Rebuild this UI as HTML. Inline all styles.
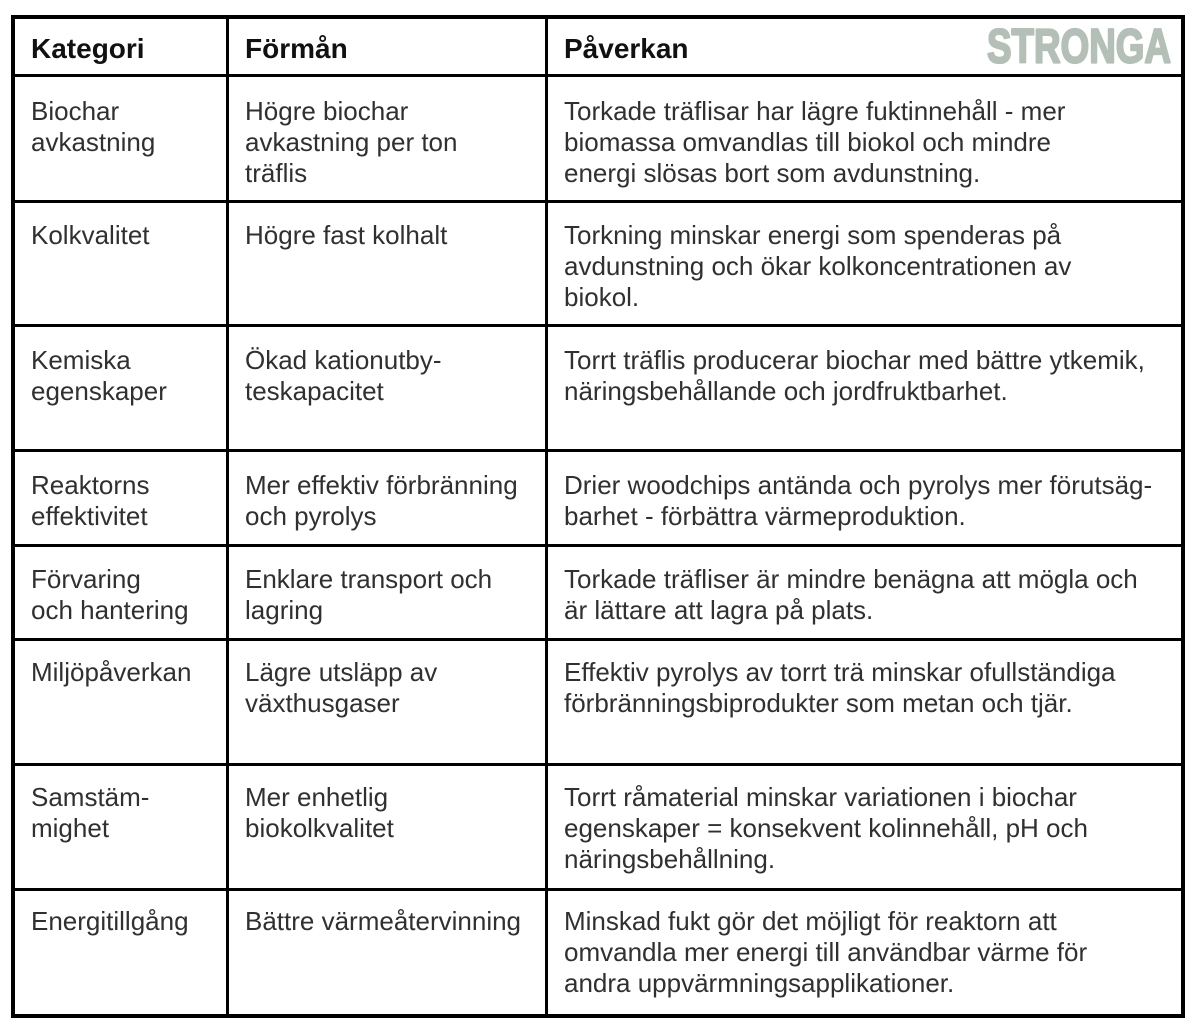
<!DOCTYPE html>
<html>
<head>
<meta charset="utf-8">
<style>
  html, body { margin:0; padding:0; background:#fff; }
  body { width:1200px; height:1034px; position:relative; overflow:hidden; font-family:"Liberation Sans", Arial, sans-serif; }
  .frame { position:absolute; left:11px; top:15px; width:1174px; height:1003px; border:4px solid #000; box-sizing:border-box; }
  .v { position:absolute; top:15px; height:1003px; width:3px; background:#000; }
  .h { position:absolute; left:11px; width:1174px; height:3px; background:#000; }
  .hd { position:absolute; top:32.6px; font-size:28px; line-height:32px; font-weight:bold; color:#111; white-space:nowrap; }
  .t { position:absolute; font-size:26px; line-height:31px; color:#303030; white-space:nowrap; }
  .c1 { left:31px; } .c2 { left:245px; } .c3 { left:564px; }
</style>
</head>
<body>
<div class="frame"></div>
<div class="v" style="left:226px"></div>
<div class="v" style="left:545px"></div>
<div class="h" style="top:74px"></div>
<div class="h" style="top:200px"></div>
<div class="h" style="top:324px"></div>
<div class="h" style="top:449px"></div>
<div class="h" style="top:544px"></div>
<div class="h" style="top:638px"></div>
<div class="h" style="top:763px"></div>
<div class="h" style="top:888px"></div>

<div class="hd c1">Kategori</div>
<div class="hd c2">Förmån</div>
<div class="hd c3">Påverkan</div>

<svg style="position:absolute;left:0;top:0" width="1200" height="80">
  <text x="987" y="62.5" font-family="Liberation Sans Narrow, Liberation Sans, sans-serif" font-weight="bold" font-size="48" fill="#b4c0b7" stroke="#b4c0b7" stroke-width="2.2" stroke-linejoin="round" textLength="184" lengthAdjust="spacingAndGlyphs">STRONGA</text>
</svg>

<!-- Row 1 -->
<div class="t c1" style="top:96px">Biochar<br>avkastning</div>
<div class="t c2" style="top:96px">Högre biochar<br>avkastning per ton<br>träflis</div>
<div class="t c3" style="top:96px">Torkade träflisar har lägre fuktinnehåll - mer<br>biomassa omvandlas till biokol och mindre<br>energi slösas bort som avdunstning.</div>

<!-- Row 2 -->
<div class="t c1" style="top:220px">Kolkvalitet</div>
<div class="t c2" style="top:220px">Högre fast kolhalt</div>
<div class="t c3" style="top:220px">Torkning minskar energi som spenderas på<br>avdunstning och ökar kolkoncentrationen av<br>biokol.</div>

<!-- Row 3 -->
<div class="t c1" style="top:345px">Kemiska<br>egenskaper</div>
<div class="t c2" style="top:345px">Ökad kationutby-<br>teskapacitet</div>
<div class="t c3" style="top:345px">Torrt träflis producerar biochar med bättre ytkemik,<br>näringsbehållande och jordfruktbarhet.</div>

<!-- Row 4 -->
<div class="t c1" style="top:470px">Reaktorns<br>effektivitet</div>
<div class="t c2" style="top:470px">Mer effektiv förbränning<br>och pyrolys</div>
<div class="t c3" style="top:470px">Drier woodchips antända och pyrolys mer förutsäg-<br>barhet - förbättra värmeproduktion.</div>

<!-- Row 5 -->
<div class="t c1" style="top:564px">Förvaring<br>och hantering</div>
<div class="t c2" style="top:564px">Enklare transport och<br>lagring</div>
<div class="t c3" style="top:564px">Torkade träfliser är mindre benägna att mögla och<br>är lättare att lagra på plats.</div>

<!-- Row 6 -->
<div class="t c1" style="top:657px">Miljöpåverkan</div>
<div class="t c2" style="top:657px">Lägre utsläpp av<br>växthusgaser</div>
<div class="t c3" style="top:657px">Effektiv pyrolys av torrt trä minskar ofullständiga<br>förbränningsbiprodukter som metan och tjär.</div>

<!-- Row 7 -->
<div class="t c1" style="top:782px">Samstäm-<br>mighet</div>
<div class="t c2" style="top:782px">Mer enhetlig<br>biokolkvalitet</div>
<div class="t c3" style="top:782px">Torrt råmaterial minskar variationen i biochar<br>egenskaper = konsekvent kolinnehåll, pH och<br>näringsbehållning.</div>

<!-- Row 8 -->
<div class="t c1" style="top:906px">Energitillgång</div>
<div class="t c2" style="top:906px">Bättre värmeåtervinning</div>
<div class="t c3" style="top:906px">Minskad fukt gör det möjligt för reaktorn att<br>omvandla mer energi till användbar värme för<br>andra uppvärmningsapplikationer.</div>
</body>
</html>
